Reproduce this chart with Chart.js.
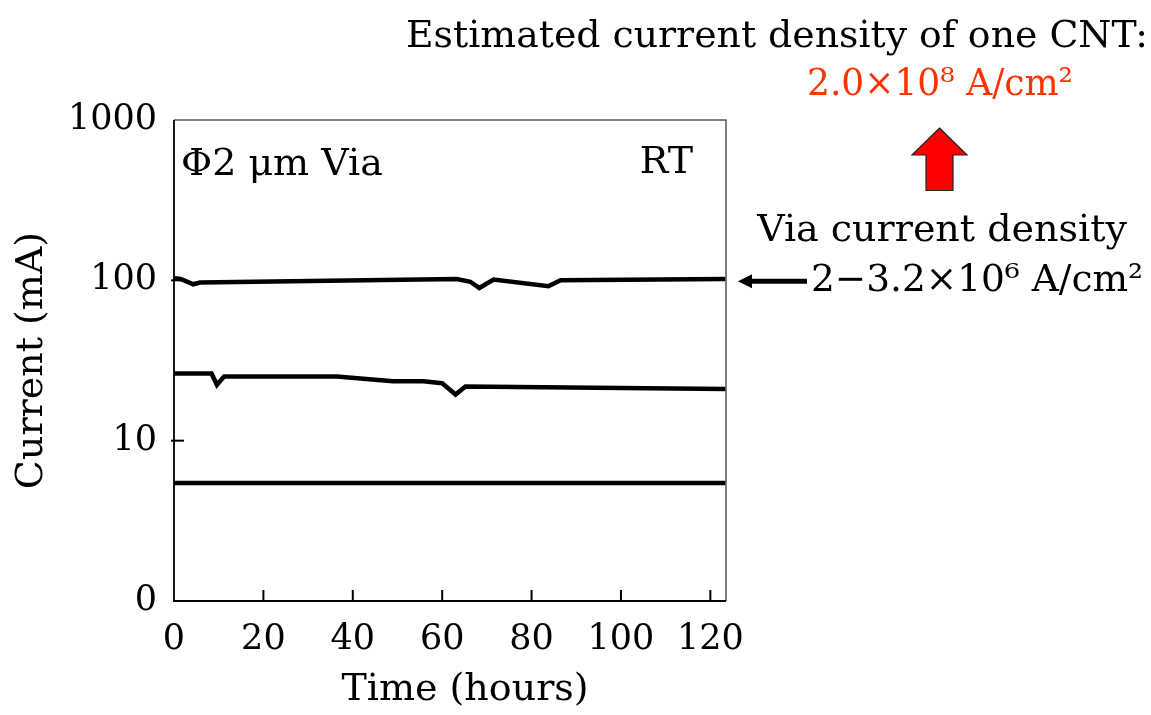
<!DOCTYPE html>
<html>
<head>
<meta charset="utf-8">
<script src="https://cdn.jsdelivr.net/npm/chart.js@4/dist/chart.umd.min.js"></script>
<style>
html,body{margin:0;padding:0;background:#fff;}
#wrap{width:1151px;height:715px;}
</style>
</head>
<body>
<div id="wrap"><canvas id="c" width="1151" height="715"></canvas></div>
<script>
// ---- data ----
const hoursA   = [0, 1.5, 4.3, 5.8, 63.3, 66.3, 68.3, 71.5, 83.8, 86.5, 123.4];
const currentA = [103, 102, 94.5, 97, 102, 98, 89.5, 101, 92, 100, 102];

const hoursB   = [0, 8.4, 9.6, 11.2, 36.4, 49, 55.8, 60, 63, 65.2, 123.4];
const currentB = [26.2, 26.2, 22.3, 25.1, 25.1, 23.5, 23.5, 22.8, 19.4, 21.8, 21.0];

const hoursC   = [0, 123.4];
const currentC = [5.45, 5.45];

const xTicks = [0, 20, 40, 60, 80, 100, 120];
const yTicks = [1, 10, 100, 1000];
const yTickLabels = ["0", "10", "100", "1000"];

const FONT = "'DejaVu Serif', serif";

function pts(xs, ys){ return xs.map((x,i)=>({x:x, y:ys[i]})); }

const ds = (xs, ys) => ({
  data: pts(xs, ys), borderColor:'#000', borderWidth:4.5, pointRadius:0,
  fill:false, tension:0, borderJoinStyle:'miter', borderCapStyle:'butt'
});

const decor = {
  id:'decor',
  afterDraw(chart){
    const ctx = chart.ctx, a = chart.chartArea;
    const xs = chart.scales.x, ys = chart.scales.y;
    ctx.save();
    // frame
    ctx.strokeStyle = '#555'; ctx.lineWidth = 1.5;
    ctx.beginPath();
    ctx.moveTo(a.left, a.top); ctx.lineTo(a.right, a.top); ctx.lineTo(a.right, a.bottom);
    ctx.stroke();
    ctx.strokeStyle = '#000'; ctx.lineWidth = 1.8;
    ctx.beginPath();
    ctx.moveTo(a.left, a.top); ctx.lineTo(a.left, a.bottom); ctx.lineTo(a.right, a.bottom);
    ctx.stroke();
    // x ticks (inside)
    ctx.lineWidth = 2;
    xTicks.forEach(v => { if (v === 0) return; const px = xs.getPixelForValue(v);
      ctx.beginPath(); ctx.moveTo(px, a.bottom); ctx.lineTo(px, a.bottom - 11); ctx.stroke(); });
    // y ticks (cross)
    [10, 100].forEach(v => { const py = ys.getPixelForValue(v);
      ctx.beginPath(); ctx.moveTo(a.left - 3, py); ctx.lineTo(a.left + 10, py); ctx.stroke(); });

    // texts
    ctx.fillStyle = '#000';
    ctx.font = '38px ' + FONT;
    ctx.textBaseline = 'alphabetic';
    ctx.textAlign = 'center';
    ctx.fillText('Time (hours)', 465, 700);
    ctx.textAlign = 'left';
    ctx.fillText('\u03A62 \u03BCm Via', a.left + 7, 175);
    ctx.textAlign = 'right';
    ctx.fillText('RT', 693, 173);
    ctx.fillText('Estimated current density of one CNT:', 1148, 47, 742);
    ctx.textAlign = 'center';
    ctx.fillText('Via current density', 942, 241, 372);
    ctx.textAlign = 'right';
    ctx.fillText('2\u22123.2\u00D710\u2076 A/cm\u00B2', 1143, 291, 332);
    ctx.fillStyle = '#ff3300';
    ctx.textAlign = 'center';
    ctx.fillText('2.0\u00D710\u2078 A/cm\u00B2', 940, 95, 266);

    // red up arrow
    ctx.fillStyle = '#ff0000'; ctx.strokeStyle = '#222'; ctx.lineWidth = 1.2;
    ctx.beginPath();
    ctx.moveTo(939.5, 128); ctx.lineTo(967, 155); ctx.lineTo(953, 155); ctx.lineTo(953, 190.5);
    ctx.lineTo(926, 190.5); ctx.lineTo(926, 155); ctx.lineTo(912, 155); ctx.closePath();
    ctx.fill(); ctx.stroke();

    // black left arrow
    const ay = ys.getPixelForValue(100) + 1;
    ctx.fillStyle = '#000'; ctx.strokeStyle = '#000'; ctx.lineWidth = 5;
    ctx.beginPath(); ctx.moveTo(748, ay); ctx.lineTo(807, ay); ctx.stroke();
    ctx.beginPath(); ctx.moveTo(738, ay); ctx.lineTo(752, ay - 7); ctx.lineTo(752, ay + 7); ctx.closePath(); ctx.fill();
    ctx.restore();
  }
};

new Chart(document.getElementById('c'), {
  type:'line',
  data:{ datasets:[ ds(hoursA, currentA), ds(hoursB, currentB), ds(hoursC, currentC) ] },
  options:{
    responsive:false, animation:false, devicePixelRatio:1,
    layout:{ padding:{ top:120, right:425, left:0, bottom:0 } },
    plugins:{ legend:{display:false}, tooltip:{enabled:false} },
    scales:{
      x:{
        type:'linear', min:0, max:123.5,
        afterBuildTicks(s){ s.ticks = xTicks.map(v=>({value:v})); },
        afterFit(s){ s.height = 114; },
        grid:{ display:false, drawTicks:false },
        border:{ display:false },
        ticks:{ color:'#000', font:{ family:FONT, size:35 }, padding:18, maxRotation:0, autoSkip:false },
        title:{ display:false }
      },
      y:{
        type:'logarithmic', min:1, max:1000,
        afterBuildTicks(s){ s.ticks = yTicks.map(v=>({value:v, major:true})); },
        afterFit(s){ s.width = 174; },
        grid:{ display:false, drawTicks:false },
        border:{ display:false },
        ticks:{ color:'#000', font:{ family:FONT, size:35 }, padding:17, autoSkip:false,
          callback(v){ const i = yTicks.indexOf(v); return i >= 0 ? yTickLabels[i] : ''; } },
        title:{ display:true, text:'Current (mA)', color:'#000', font:{ family:FONT, size:38 }, padding:{top:9,bottom:0} }
      }
    }
  },
  plugins:[decor]
});
</script>
</body>
</html>
